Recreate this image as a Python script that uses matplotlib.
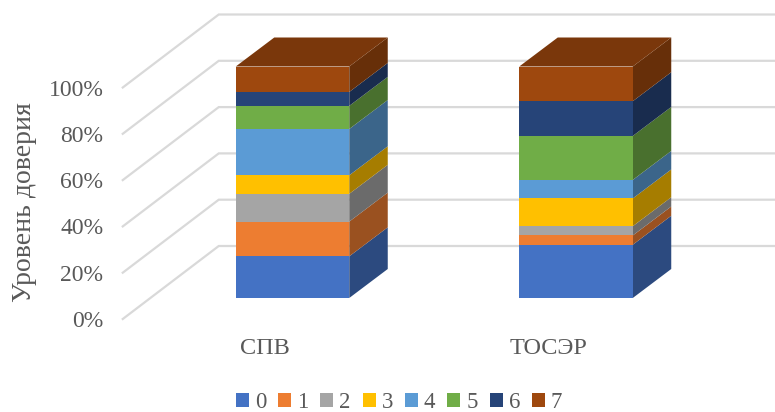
import matplotlib
matplotlib.use("Agg")
import matplotlib.pyplot as plt
from matplotlib.colors import to_rgb
from matplotlib.ticker import PercentFormatter

plt.rcParams["font.family"] = ["Liberation Serif", "DejaVu Serif"]

# Trust-level shares (percent) for each territory type
categories = ["СПВ", "ТОСЭР"]
levels = ["0", "1", "2", "3", "4", "5", "6", "7"]
share_spv = [18, 15, 12, 8, 20, 10, 6, 11]
share_toser = [23, 4, 4, 12, 8, 19, 15, 15]
y_ticks = [0, 20, 40, 60, 80, 100]
y_title = "Уровень доверия"

colors = ["#4472C4", "#ED7D31", "#A5A5A5", "#FFC000",
          "#5B9BD5", "#70AD47", "#264478", "#9E480E"]
TEXT = "#595959"
GRID = "#D9D9D9"

W, H = 775, 412
fig = plt.figure(figsize=(W / 100, H / 100), dpi=100, facecolor="white")

# Plot area is the front plane of the floor; scales in px per data unit
AX_L, AX_R, AX_B, AX_T = 122.75, 689.75, 319.0, 87.5
ax = fig.add_axes([AX_L / W, 1 - AX_B / H, (AX_R - AX_L) / W, (AX_B - AX_T) / H])
ax.set_xlim(-0.5, 1.5)
ax.set_ylim(0, 100)
ax.patch.set_visible(False)
px_x = (AX_R - AX_L) / 2
px_y = (AX_B - AX_T) / 100


def depth(dx_px, dy_px):
    """Convert an oblique projection offset from pixels to data units."""
    return dx_px / px_x, dy_px / px_y


wall_dx, wall_dy = depth(96, 73)
inset_dx, inset_dy = depth(28, 21)
side_dx, side_dy = depth(38.5, 29)
bar_width = 113.5 / px_x
right_end = (W - AX_L) / px_x - 0.5

# Floor diagonals running into the back-wall gridlines
for v in y_ticks:
    ax.plot([-0.5, -0.5 + wall_dx, right_end],
            [v, v + wall_dy, v + wall_dy],
            color=GRID, lw=1.6, clip_on=False, zorder=1,
            solid_joinstyle="miter")


def shade(color, factor):
    return tuple(c * factor for c in to_rgb(color))


xpos = [0, 1]
series = list(zip(share_spv, share_toser))
bottoms = [0.0, 0.0]
for level, vals, col in zip(levels, series, colors):
    bars = ax.bar([x + inset_dx for x in xpos], vals, bar_width,
                  bottom=[b + inset_dy for b in bottoms],
                  color=col, label=level, zorder=3, linewidth=0)
    for x, v, b in zip(xpos, vals, bottoms):
        xr = x + inset_dx + bar_width / 2
        y0, y1 = b + inset_dy, b + v + inset_dy
        ax.fill([xr, xr + side_dx, xr + side_dx, xr],
                [y0, y0 + side_dy, y1 + side_dy, y1],
                color=shade(col, 0.65), lw=0, zorder=2.5, clip_on=False)
    bottoms = [b + v for b, v in zip(bottoms, vals)]

# Top caps take the colour of the uppermost segment
for x, total in zip(xpos, bottoms):
    xl = x + inset_dx - bar_width / 2
    xr = xl + bar_width
    y = total + inset_dy
    ax.fill([xl, xr, xr + side_dx, xl + side_dx],
            [y, y, y + side_dy, y + side_dy],
            color=shade(colors[-1], 0.77), lw=0, zorder=2.6, clip_on=False)

for bar_patch in ax.patches:
    bar_patch.set_clip_on(False)

for s in ax.spines.values():
    s.set_visible(False)
ax.set_xticks(xpos, categories)
ax.set_yticks(y_ticks)
ax.yaxis.set_major_formatter(PercentFormatter(100, decimals=0))
ax.tick_params(axis="y", length=0, pad=14, labelsize=17, labelcolor=TEXT)
ax.tick_params(axis="x", length=0, pad=14, labelsize=17.5, labelcolor=TEXT)

ax.set_ylabel(y_title, fontsize=20, color=TEXT)
ax.yaxis.set_label_coords((37 - AX_L) / (AX_R - AX_L), (AX_B - 202) / (AX_B - AX_T))

fig.legend(loc="center", bbox_to_anchor=(399 / W, 1 - 402.5 / H), ncol=8,
           frameon=False, fontsize=16.5, labelcolor=TEXT,
           handlelength=0.57, handleheight=0.57, handletextpad=0.26,
           columnspacing=0.52, borderpad=0, borderaxespad=0)

fig.savefig("out.png", dpi=100)
